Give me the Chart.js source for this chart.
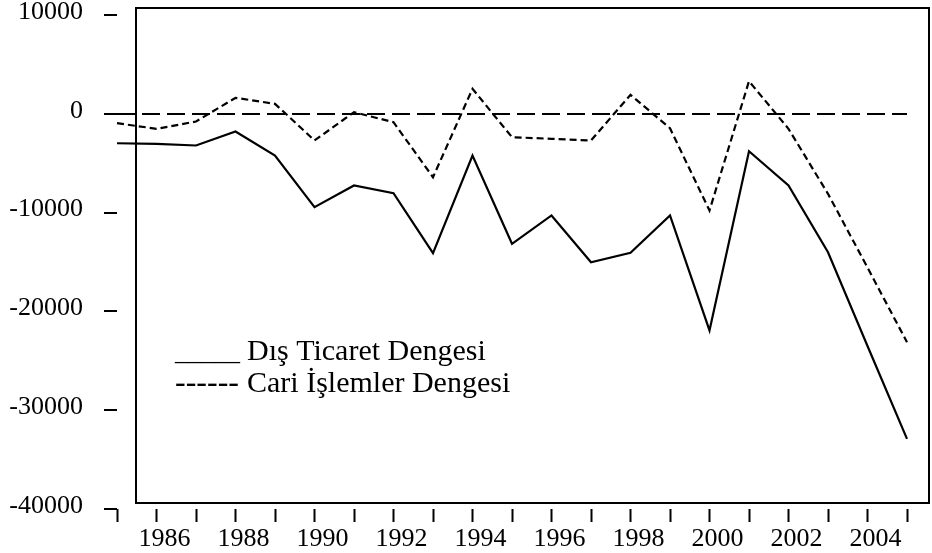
<!DOCTYPE html>
<html>
<head>
<meta charset="utf-8">
<script src="https://cdn.jsdelivr.net/npm/chart.js@4"></script>
<style>
  html, body { margin: 0; padding: 0; background: #fff; }
</style>
</head>
<body>
<canvas id="chart" width="932" height="553"></canvas>
<script>
const years = [1985, 1986, 1987, 1988, 1989, 1990, 1991, 1992, 1993, 1994, 1995,
               1996, 1997, 1998, 1999, 2000, 2001, 2002, 2003, 2004, 2005];
// Dış Ticaret Dengesi (solid)
const tradeBalance = [-2980, -3040, -3210, -1790, -4220, -9450, -7260, -8040, -14110, -4220, -13160,
                      -10290, -15020, -14070, -10290, -21930, -3790, -7260, -14010, -23500, -32900];
// Cari İşlemler Dengesi (dashed)
const currentAccount = [-950, -1520, -780, 1620, 1010, -2700, 160, -850, -6420, 2530, -2370,
                        -2530, -2700, 1920, -1460, -9790, 3300, -1520, -8100, -15560, -23120];
const yTicks = [-40000, -30000, -20000, -10000, 0, 10000];
const legendMarks = ['_____', '------'];
const legendLabels = ['Dış Ticaret Dengesi', 'Cari İşlemler Dengesi'];

const serif = 'Liberation Serif, Times New Roman, serif';

// the frame is drawn a little off the axis lines, like the original
const framePlugin = {
    id: 'frame',
    beforeDatasetsDraw(chart) {
        const a = chart.chartArea;
        const c = chart.ctx;
        c.save();
        c.strokeStyle = '#000';
        c.lineWidth = 2;
        c.strokeRect(a.left + 19, a.top - 7, a.right - a.left + 3, a.bottom - a.top + 1);
        c.restore();
    },
    afterDraw(chart) {
        const a = chart.chartArea;
        const c = chart.ctx;
        c.save();
        c.fillStyle = '#000';
        c.textBaseline = 'alphabetic';
        const markFonts = ['26px ', '32px '];
        legendLabels.forEach((t, i) => {
            const y = a.top + 345 + i * 32;
            c.font = markFonts[i] + serif;
            c.fillText(legendMarks[i], a.left + 58, y);
            c.font = '30px ' + serif;
            c.fillText(t, a.left + 130, y);
        });
        c.restore();
    }
};

new Chart(document.getElementById('chart'), {
    type: 'line',
    data: {
        labels: years,
        datasets: [{
            label: 'Dış Ticaret Dengesi',
            data: tradeBalance,
            borderColor: '#000',
            borderWidth: 2.2,
            pointRadius: 0,
            tension: 0
        }, {
            label: 'Cari İşlemler Dengesi',
            data: currentAccount,
            borderColor: '#000',
            borderWidth: 2.2,
            borderDash: [7, 4],
            pointRadius: 0,
            tension: 0
        }]
    },
    options: {
        responsive: false,
        animation: false,
        layout: { padding: { top: 15, right: 25, left: 0, bottom: 0 } },
        plugins: { legend: { display: false }, tooltip: { enabled: false } },
        scales: {
            x: {
                offset: false,
                grid: {
                    drawOnChartArea: false,
                    tickLength: 13,
                    tickColor: '#000',
                    tickWidth: 2
                },
                border: { display: false },
                ticks: {
                    autoSkip: false,
                    maxRotation: 0,
                    color: '#000',
                    font: { family: serif, size: 26 },
                    padding: 2,
                    labelOffset: 8,
                    callback: (v, i) => (years[i] % 2 === 0 ? String(years[i]) : '')
                },
                afterFit(scale) { scale.height = 44; }
            },
            y: {
                min: -40000,
                max: 10000,
                afterBuildTicks(scale) { scale.ticks = yTicks.map(v => ({ value: v })); },
                grid: {
                    drawOnChartArea: true,
                    color: ctx => (ctx.tick && ctx.tick.value === 0 ? '#000' : 'rgba(0,0,0,0)'),
                    lineWidth: 2,
                    tickLength: 13,
                    tickColor: '#000',
                    tickWidth: 2,
                    tickBorderDash: []
                },
                border: { display: false, dash: [18, 7] },
                ticks: {
                    color: '#000',
                    font: { family: serif, size: 26, lineHeight: 1 },
                    padding: 21,
                    labelOffset: -3,
                    callback: v => String(v)
                },
                afterFit(scale) {
                    scale.width = 117;
                    scale.paddingTop = 0;
                    scale.paddingBottom = 0;
                }
            }
        }
    },
    plugins: [framePlugin]
});
</script>
</body>
</html>
